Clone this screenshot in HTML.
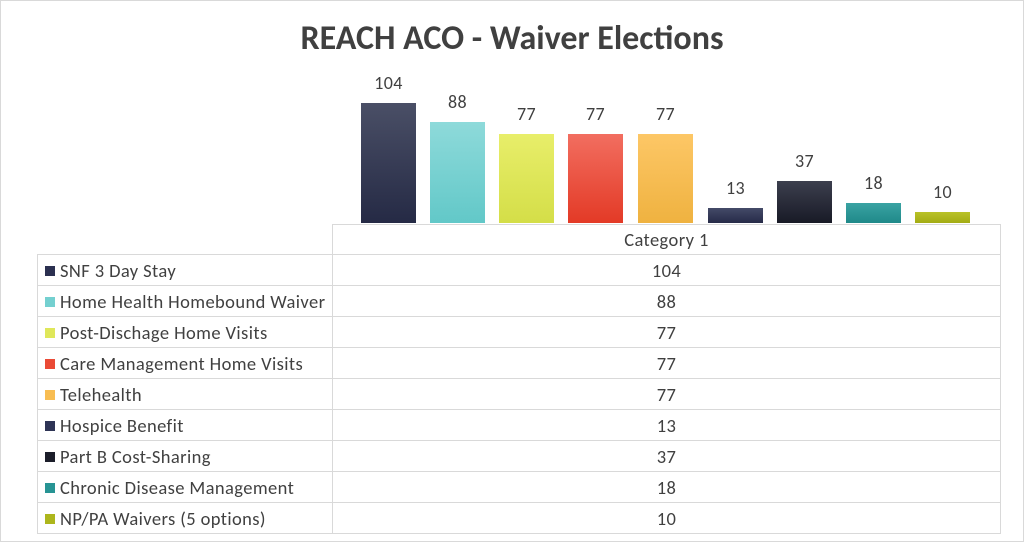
<!DOCTYPE html><html><head><style>
body{margin:0;width:1024px;height:543px;background:#fff;position:relative;overflow:hidden;font-family:"Carlito","Liberation Sans",sans-serif;color:#404040}
.frame{position:absolute;left:0;top:0;width:1022px;height:540px;border:1px solid #d9d9d9}
.t{position:absolute;left:0;width:1024px;top:18px;text-align:center;font-weight:bold;font-size:34px;color:#404040}
.b{position:absolute;width:55px}
.l{position:absolute;width:55px;text-align:center;font-size:18px;letter-spacing:0.4px}
table{position:absolute;left:37px;top:224px;border-collapse:collapse;font-size:18.5px;letter-spacing:0.4px}
td{border:1px solid #d9d9d9;height:31px;padding:0;box-sizing:border-box}
tr.h td{height:30px}
td.n{width:295px;padding-left:7px;white-space:nowrap}
td.v{width:668px;text-align:center}
.sq{display:inline-block;width:10px;height:10px;margin-right:5px;vertical-align:1px}
</style></head><body>
<div class="frame"></div>
<div class="t">REACH ACO - Waiver Elections</div>
<div class="b" style="left:361px;top:103px;height:120px;background:linear-gradient(#4a4f66,#252a45)"></div>
<div class="b" style="left:430px;top:122px;height:101px;background:linear-gradient(#8edada,#62c8c8)"></div>
<div class="b" style="left:499px;top:134px;height:89px;background:linear-gradient(#e8ee6a,#d4de48)"></div>
<div class="b" style="left:568px;top:134px;height:89px;background:linear-gradient(#f26e60,#e33a26)"></div>
<div class="b" style="left:638px;top:134px;height:89px;background:linear-gradient(#fdc766,#efb240)"></div>
<div class="b" style="left:708px;top:208px;height:15px;background:linear-gradient(#444a68,#262b48)"></div>
<div class="b" style="left:777px;top:181px;height:42px;background:linear-gradient(#3c3f4e,#181a26)"></div>
<div class="b" style="left:846px;top:203px;height:20px;background:linear-gradient(#3aa3a3,#1f8989)"></div>
<div class="b" style="left:915px;top:212px;height:11px;background:linear-gradient(#b9c228,#a3ac14)"></div>
<div class="l" style="left:361px;top:72px">104</div>
<div class="l" style="left:430px;top:91px">88</div>
<div class="l" style="left:499px;top:103px">77</div>
<div class="l" style="left:568px;top:103px">77</div>
<div class="l" style="left:638px;top:103px">77</div>
<div class="l" style="left:708px;top:177px">13</div>
<div class="l" style="left:777px;top:150px">37</div>
<div class="l" style="left:846px;top:172px">18</div>
<div class="l" style="left:915px;top:181px">10</div>
<table>
<tr class="h"><td style="border:none;border-right:1px solid #d9d9d9;border-bottom:1px solid #d9d9d9"></td><td class="v">Category 1</td></tr>
<tr><td class="n"><span class="sq" style="background:#2b3050"></span>SNF 3 Day Stay</td><td class="v">104</td></tr>
<tr><td class="n"><span class="sq" style="background:#74d0d0"></span>Home Health Homebound Waiver</td><td class="v">88</td></tr>
<tr><td class="n"><span class="sq" style="background:#dfe75a"></span>Post-Dischage Home Visits</td><td class="v">77</td></tr>
<tr><td class="n"><span class="sq" style="background:#ea4a36"></span>Care Management Home Visits</td><td class="v">77</td></tr>
<tr><td class="n"><span class="sq" style="background:#f8bd52"></span>Telehealth</td><td class="v">77</td></tr>
<tr><td class="n"><span class="sq" style="background:#2e3455"></span>Hospice Benefit</td><td class="v">13</td></tr>
<tr><td class="n"><span class="sq" style="background:#1c1e2a"></span>Part B Cost-Sharing</td><td class="v">37</td></tr>
<tr><td class="n"><span class="sq" style="background:#279494"></span>Chronic Disease Management</td><td class="v">18</td></tr>
<tr><td class="n"><span class="sq" style="background:#adb61c"></span>NP/PA Waivers (5 options)</td><td class="v">10</td></tr>
</table>
</body></html>
